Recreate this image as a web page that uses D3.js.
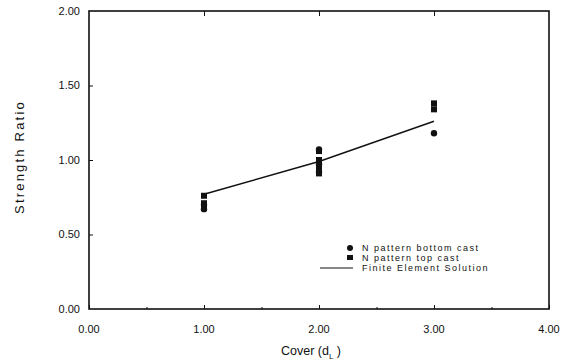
<!DOCTYPE html>
<html>
<head>
<meta charset="utf-8">
<script src="https://cdn.jsdelivr.net/npm/d3@7"></script>
<style>
body { margin: 0; background: #fff; }
svg text { font-family: "Liberation Sans", Arial, sans-serif; fill: #111; }
</style>
</head>
<body>
<div id="Graph"></div>
<script>
// test data
var bottomCastX = [1, 1, 2, 2, 2, 3];
var bottomCastY = [0.70, 0.67, 1.07, 0.97, 0.92, 1.18];
var topCastX = [1, 1, 1, 2, 2, 2, 2, 3, 3];
var topCastY = [0.76, 0.71, 0.68, 1.06, 1.00, 0.95, 0.91, 1.38, 1.34];
var feX = [1, 2, 3];
var feY = [0.77, 0.99, 1.26];
var xTicks = [0, 1, 2, 3, 4];
var yTicks = [0, 0.5, 1, 1.5, 2];
var legendLabels = ["N pattern bottom cast", "N pattern top cast", "Finite Element Solution"];

var width = 569, height = 363;
var margin = {top: 11, right: 20, bottom: 54, left: 89};

var svg = d3.select("#Graph").append("svg")
    .attr("width", width)
    .attr("height", height);

var x = d3.scaleLinear().domain([0, 4]).range([margin.left, width - margin.right]);
var y = d3.scaleLinear().domain([0, 2]).range([height - margin.bottom, margin.top]);

//frame
svg.append("rect")
    .attr("x", x(0))
    .attr("y", y(2))
    .attr("width", x(4) - x(0))
    .attr("height", y(0) - y(2))
    .attr("fill", "none")
    .attr("stroke", "#111")
    .attr("stroke-width", 1.6);

//bottom axis, ticks pointing inwards
var xAxis = svg.append("g")
    .attr("transform", "translate(0," + y(0) + ")")
    .call(d3.axisBottom(x).tickValues(d3.range(0, 4.01, 0.5)).tickSizeInner(-4).tickSizeOuter(0).tickFormat(""));
xAxis.select(".domain").remove();
xAxis.selectAll("line").attr("stroke", "#111");
xAxis.selectAll(".tick line").filter(function (d) { return d % 1 !== 0; }).attr("y2", -2);

//top axis ticks
var xTop = svg.append("g")
    .attr("transform", "translate(0," + y(2) + ")")
    .call(d3.axisTop(x).tickValues([1, 2, 3]).tickSizeInner(-5).tickSizeOuter(0).tickFormat(""));
xTop.select(".domain").remove();
xTop.selectAll("line").attr("stroke", "#111");

//left axis ticks
var yAxis = svg.append("g")
    .attr("transform", "translate(" + x(0) + ",0)")
    .call(d3.axisLeft(y).tickValues([0.5, 1, 1.5]).tickSizeInner(-4).tickSizeOuter(0).tickFormat(""));
yAxis.select(".domain").remove();
yAxis.selectAll("line").attr("stroke", "#111");

//tick labels
svg.selectAll(".xlabel")
    .data(xTicks)
    .enter().append("text")
    .attr("x", function (d) { return x(d); })
    .attr("y", y(0) + 24)
    .style("text-anchor", "middle")
    .attr("font-size", "11px")
    .text(function (d) { return d3.format(".2f")(d); });

svg.selectAll(".ylabel")
    .data(yTicks)
    .enter().append("text")
    .attr("x", x(0) - 9)
    .attr("y", function (d) { return y(d); })
    .attr("dy", "0.35em")
    .style("text-anchor", "end")
    .attr("font-size", "11px")
    .text(function (d) { return d3.format(".2f")(d); });

//axis titles
var xTitle = svg.append("text")
    .attr("x", 311)
    .attr("y", 355)
    .style("text-anchor", "middle")
    .attr("font-size", "12.5px");
xTitle.append("tspan").text("Cover  (d");
xTitle.append("tspan").attr("font-size", "8px").attr("dy", 4).text("L");
xTitle.append("tspan").attr("dy", -4).text(" )");

svg.append("text")
    .attr("transform", "translate(24," + y(1.02) + ") rotate(-90)")
    .style("text-anchor", "middle")
    .attr("font-size", "13px")
    .attr("letter-spacing", "2.2px")
    .text("Strength Ratio");

//finite element line
var line = d3.line()
    .x(function (d) { return x(d[0]); })
    .y(function (d) { return y(d[1]); });

svg.append("path")
    .datum(d3.zip(feX, feY))
    .attr("d", line)
    .attr("fill", "none")
    .attr("stroke", "#111")
    .attr("stroke-width", 1.4);

//markers
svg.selectAll(".top")
    .data(d3.zip(topCastX, topCastY))
    .enter().append("rect")
    .attr("x", function (d) { return x(d[0]) - 3; })
    .attr("y", function (d) { return y(d[1]) - 3; })
    .attr("width", 6)
    .attr("height", 6)
    .attr("fill", "#111");

svg.selectAll(".bottom")
    .data(d3.zip(bottomCastX, bottomCastY))
    .enter().append("circle")
    .attr("cx", function (d) { return x(d[0]); })
    .attr("cy", function (d) { return y(d[1]); })
    .attr("r", 3.2)
    .attr("fill", "#111");

//legend
var legend = svg.append("g").attr("transform", "translate(350,248)");
legend.append("circle").attr("cx", 0).attr("cy", 0).attr("r", 3).attr("fill", "#111");
legend.append("rect").attr("x", -3).attr("y", 7).attr("width", 6).attr("height", 5).attr("fill", "#111");
legend.append("line").attr("x1", -30).attr("x2", 3).attr("y1", 20).attr("y2", 20).attr("stroke", "#111").attr("stroke-width", 1.2);
legend.selectAll(".ltext")
    .data(legendLabels)
    .enter().append("text")
    .attr("x", 12)
    .attr("y", function (d, i) { return i * 10; })
    .attr("dy", "0.35em")
    .attr("font-size", "9px")
    .attr("letter-spacing", "1.5px")
    .text(function (d) { return d; });
</script>
</body>
</html>
